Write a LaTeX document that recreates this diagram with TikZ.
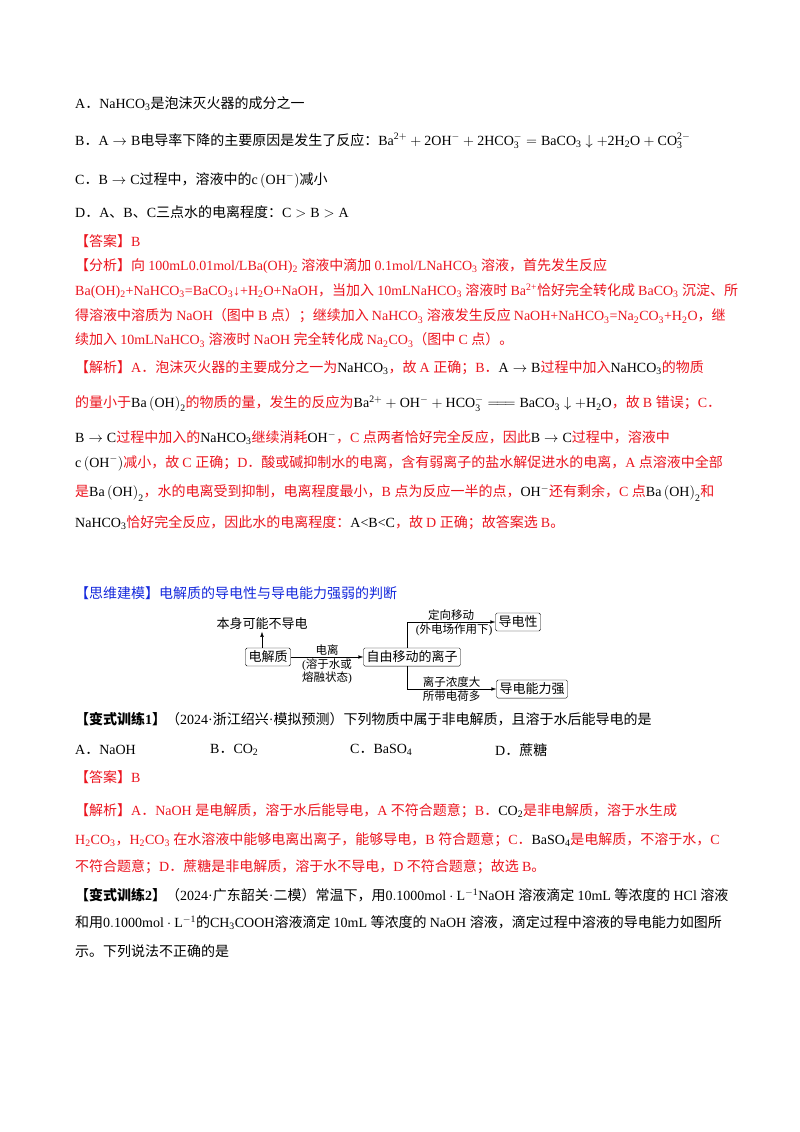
\documentclass[tikz,border=0pt]{standalone}
\usepackage{fontspec}
\usepackage{amsmath,amssymb}
\setmainfont{Liberation Serif}
\newfontfamily\cjk{Noto Sans CJK SC}
\newfontfamily\latinfont{Liberation Serif}
\usetikzlibrary{positioning,arrows.meta}
% switch to the CJK font for Chinese characters and punctuation
\XeTeXinterchartokenstate=1
\newXeTeXintercharclass\cjkclass
\newcount\cc
\def\setcjkrange#1#2{\cc=#1 \loop \XeTeXcharclass\cc=\cjkclass \ifnum\cc<#2 \advance\cc by 1 \repeat}
\setcjkrange{"4E00}{"9FFF}
\setcjkrange{"3000}{"303F}
\setcjkrange{"FF00}{"FFEF}
\XeTeXinterchartoks 0 \cjkclass = {\cjk}
\XeTeXinterchartoks 4095 \cjkclass = {\cjk}
\XeTeXinterchartoks \cjkclass 0 = {\latinfont}
\XeTeXinterchartoks 4095 0 = {\latinfont}
\definecolor{ansred}{RGB}{235,20,30}
\definecolor{tipblue}{RGB}{20,40,220}
\newcommand{\dn}[1]{\textsubscript{#1}}
\newcommand{\up}[1]{\textsuperscript{#1}}
\newcommand{\fm}[1]{\textcolor{black}{$\mathrm{#1}$}}
\begin{document}
\begin{tikzpicture}[x=1pt, y=-1pt,
    line/.style={anchor=west, inner sep=0pt, font=\fontsize{14}{17}\selectfont},
    red line/.style={line, text=ansred},
    box/.style={draw, rounded corners=1.5pt, inner sep=3pt, font=\fontsize{13}{15}\selectfont},
    lab/.style={font=\fontsize{11.5}{13}\selectfont, inner sep=1.5pt, align=center},
    arr/.style={-{Latex[length=5pt,width=3.5pt]}, thin}]
  \useasboundingbox (0,0) rectangle (800,1132);

  % options of the first question
  \node[line] (qa) at (75,104) {A．\fm{NaHCO_3}是泡沫灭火器的成分之一};
  \node[line] (qb) at (75,141) {B．\fm{A\to B}电导率下降的主要原因是发生了反应：\fm{Ba^{2+}+2OH^{-}+2HCO_3^{-}=BaCO_3\downarrow+2H_2O+CO_3^{2-}}};
  \node[line] (qc) at (75,180) {C．\fm{B\to C}过程中，溶液中的\fm{c\left(OH^{-}\right)}减小};
  \node[line] (qd) at (75,212) {D．A、B、C三点水的电离程度：\fm{C>B>A}};
  \node[red line] (ans1) at (75,241) {【答案】B};

  % analysis
  \node[red line] (fx1) at (75,266) {【分析】向 100mL0.01mol/LBa(OH)\dn2 溶液中滴加 0.1mol/LNaHCO\dn3 溶液，首先发生反应};
  \node[red line] (fx2) at (75,291) {Ba(OH)\dn2+NaHCO\dn3=BaCO\dn3↓+H\dn2O+NaOH，当加入 10mLNaHCO\dn3 溶液时 Ba\up{2+}恰好完全转化成 BaCO\dn3 沉淀、所};
  \node[red line] (fx3) at (75,316) {得溶液中溶质为 NaOH（图中 B 点）；继续加入 NaHCO\dn3 溶液发生反应 NaOH+NaHCO\dn3=Na\dn2CO\dn3+H\dn2O，继};
  \node[red line] (fx4) at (75,340) {续加入 10mLNaHCO\dn3 溶液时 NaOH 完全转化成 Na\dn2CO\dn3（图中 C 点）。};

  % explanation
  \node[red line] (jx1) at (75,368) {【解析】A．泡沫灭火器的主要成分之一为\fm{NaHCO_3}，故 A 正确；B．\fm{A\to B}过程中加入\fm{NaHCO_3}的物质};
  \node[red line] (jx2) at (75,404) {的量小于\fm{Ba\left(OH\right)_2}的物质的量，发生的反应为\fm{Ba^{2+}+OH^{-}+HCO_3^{-}=\!=\!=BaCO_3\downarrow+H_2O}，故 B 错误；C．};
  \node[red line] (jx3) at (75,438) {\fm{B\to C}过程中加入的\fm{NaHCO_3}继续消耗\fm{OH^{-}}，C 点两者恰好完全反应，因此\fm{B\to C}过程中，溶液中};
  \node[red line] (jx4) at (75,463) {\fm{c\left(OH^{-}\right)}减小，故 C 正确；D．酸或碱抑制水的电离，含有弱离子的盐水解促进水的电离，A 点溶液中全部};
  \node[red line] (jx5) at (75,493) {是\fm{Ba\left(OH\right)_2}，水的电离受到抑制，电离程度最小，B 点为反应一半的点，\fm{OH^{-}}还有剩余，C 点\fm{Ba\left(OH\right)_2}和};
  \node[red line] (jx6) at (75,523) {\fm{NaHCO_3}恰好完全反应，因此水的电离程度：\textcolor{black}{A<B<C}，故 D 正确；故答案选 B。};

  \node[line, text=tipblue] (model) at (75,593) {【思维建模】电解质的导电性与导电能力强弱的判断};

  % the diagram
  \node[box] (dj) at (268,657) {电解质};
  \node[lab, font=\fontsize{13}{15}\selectfont] (bs) at (262,624) {本身可能不导电};
  \node[box] (lz) at (412,657) {自由移动的离子};
  \node[box] (ddx) at (518,622) {导电性};
  \node[box] (nl) at (532,689) {导电能力强};
  \coordinate (lzt) at ([xshift=-5pt]lz.north);
  \coordinate (lzb) at ([xshift=-5pt]lz.south);
  \draw[arr] (dj.north -| bs.south) -- (bs.south);
  \draw[arr] (dj) -- node[lab, above] {电离} node[lab, below] {(溶于水或\\熔融状态)} (lz);
  \draw[arr] (lzt) |- node[lab, above, pos=0.75] {定向移动} node[lab, below, pos=0.75, xshift=3pt] {(外电场作用下)} (ddx.west);
  \draw[arr] (lzb) |- node[lab, above, pos=0.75] {离子浓度大} node[lab, below, pos=0.75] {所带电荷多} (nl.west);

  % variant exercise 1
  \node[line] (bs1) at (75,719) {\textbf{【变式训练1】}（2024·浙江绍兴·模拟预测）下列物质中属于非电解质，且溶于水后能导电的是};
  \node[line] (o1) at (75,750) {A．NaOH};
  \node[line] (o2) at (210,750) {B．\fm{CO_2}};
  \node[line] (o3) at (350,750) {C．\fm{BaSO_4}};
  \node[line] (o4) at (495,750) {D．蔗糖};
  \node[red line] (ans2) at (75,777) {【答案】B};
  \node[red line] (jy1) at (75,811) {【解析】A．NaOH 是电解质，溶于水后能导电，A 不符合题意；B．\fm{CO_2}是非电解质，溶于水生成};
  \node[red line] (jy2) at (75,840) {H\dn2CO\dn3，H\dn2CO\dn3 在水溶液中能够电离出离子，能够导电，B 符合题意；C．\fm{BaSO_4}是电解质，不溶于水，C};
  \node[red line] (jy3) at (75,867) {不符合题意；D．蔗糖是非电解质，溶于水不导电，D 不符合题意；故选 B。};

  % variant exercise 2
  \node[line] (bs2) at (75,895) {\textbf{【变式训练2】}（2024·广东韶关·二模）常温下，用\fm{0.1000mol\cdot L^{-1}}NaOH 溶液滴定 10mL 等浓度的 HCl 溶液};
  \node[line] (bs2b) at (75,923) {和用\fm{0.1000mol\cdot L^{-1}}的\fm{CH_3COOH}溶液滴定 10mL 等浓度的 NaOH 溶液，滴定过程中溶液的导电能力如图所};
  \node[line] (bs2c) at (75,951) {示。下列说法不正确的是};
\end{tikzpicture}
\end{document}
